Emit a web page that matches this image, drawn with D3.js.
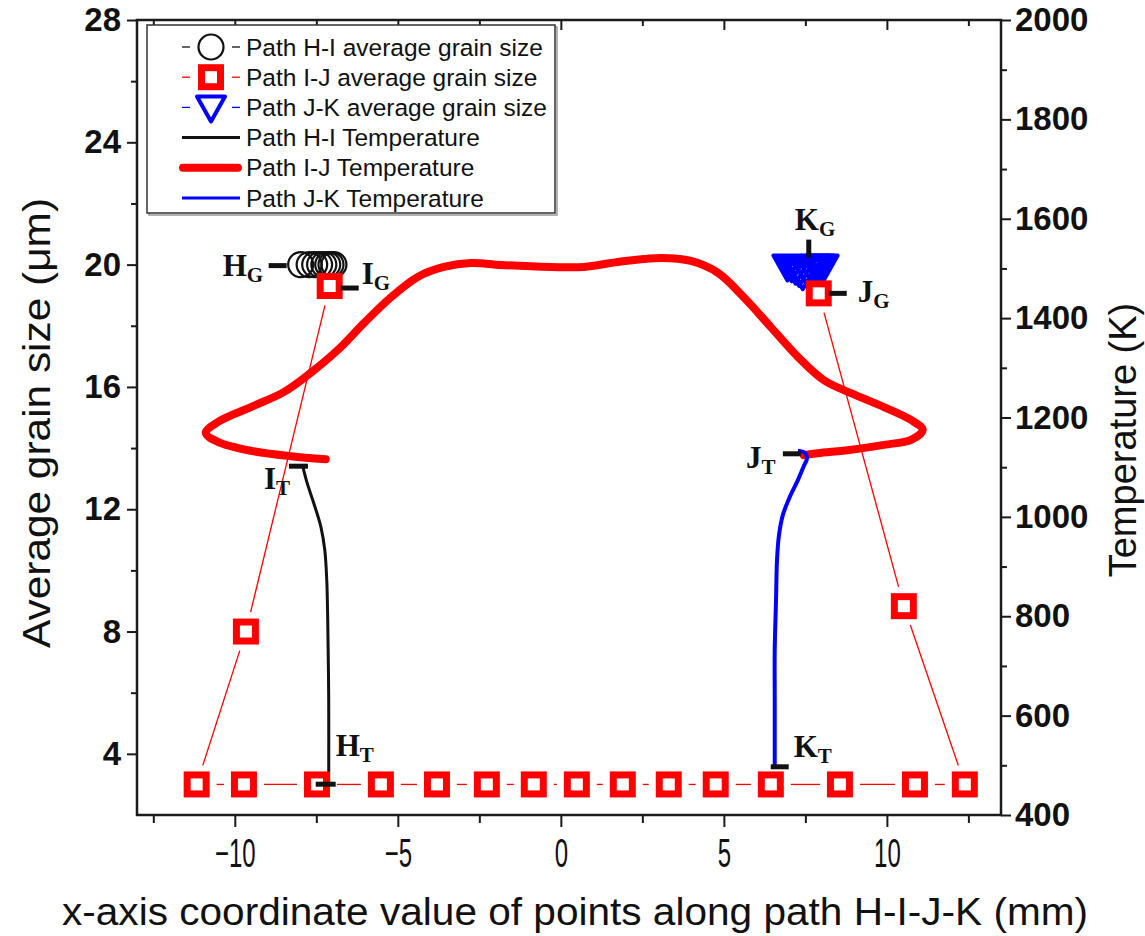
<!DOCTYPE html>
<html><head><meta charset="utf-8">
<script src="https://cdn.jsdelivr.net/npm/d3@7/dist/d3.min.js"></script>
<style>body{margin:0;background:#fff}svg{display:block}</style>
</head><body>
<svg id="chart" width="1145" height="936"></svg>
<script>
// ---- average grain size (μm) of points along each path ----
const hiGrainX = [-7.98, -7.72, -7.55, -7.40, -7.27, -7.15, -7.05, -6.96];
const hiGrainY = [20.0, 20.0, 20.0, 20.0, 20.0, 20.0, 20.0, 20.0];

// I-J points in path order (I -> J)
const ijGrainX = [-7.09, -9.66, -11.17, -9.72, -7.48, -5.52, -3.80, -2.27, -0.83, 0.49, 1.90, 3.31, 4.75, 6.44, 8.56, 10.86, 12.39, 10.52, 7.91];
const ijGrainY = [19.3, 8.0, 3.0, 3.0, 3.0, 3.0, 3.0, 3.0, 3.0, 3.0, 3.0, 3.0, 3.0, 3.0, 3.0, 3.0, 3.0, 8.83, 19.06];

const jkGrainX = [6.95, 7.08, 7.20, 7.31, 7.42, 7.55, 7.68, 7.82, 7.94, 8.06];
const jkGrainY = [20.0, 19.98, 19.9, 19.82, 19.72, 19.85, 19.95, 20.0, 20.0, 20.0];

// ---- temperature (K) along each path ----
const hiTempX = [-7.12, -7.12, -7.15, -7.18, -7.24, -7.36, -7.58, -7.79, -7.91];
const hiTempY = [464, 631, 792, 873, 933, 980, 1028, 1070, 1100];

const ijTempX = [-7.21, -8.28, -9.51, -10.52, -10.89, -10.52, -9.51, -8.50, -7.67, -6.84, -6.04, -5.21, -4.39, -3.59, -2.76, -1.84, -0.31, 0.71, 1.75, 3.07, 3.99, 4.82, 5.61, 6.44, 7.27, 8.07, 8.90, 9.91, 10.74, 11.10, 10.74, 9.91, 8.90, 7.88, 7.45];
const ijTempY = [1116, 1122, 1133, 1151, 1169, 1191, 1221, 1251, 1290, 1336, 1390, 1442, 1483, 1503, 1511, 1507, 1503, 1503, 1513, 1521, 1515, 1491, 1442, 1382, 1322, 1275, 1249, 1221, 1195, 1175, 1155, 1145, 1135, 1128, 1124];

const jkTempX = [7.27, 7.48, 7.55, 7.45, 7.27, 7.02, 6.81, 6.69, 6.63, 6.60, 6.56, 6.56, 6.56];
const jkTempY = [1133, 1129, 1118, 1102, 1074, 1040, 1004, 963, 913, 833, 732, 631, 499];

// ---- axes ----
const xTicks = [-10, -5, 0, 5, 10];
const xMinor = [-12.5, -7.5, -2.5, 2.5, 7.5, 12.5];
const grainTicks = [4, 8, 12, 16, 20, 24, 28];
const grainMinor = [6, 10, 14, 18, 22, 26];
const tempTicks = [400, 600, 800, 1000, 1200, 1400, 1600, 1800, 2000];
const tempMinor = [500, 700, 900, 1100, 1300, 1500, 1700, 1900];

const xTitle = "x-axis coordinate value of points along path H-I-J-K (mm)";
const grainTitle = "Average grain size (\u03bcm)";
const tempTitle = "Temperature (K)";

const legendLabels = [
  "Path H-I average grain size",
  "Path I-J average grain size",
  "Path J-K average grain size",
  "Path H-I Temperature",
  "Path I-J Temperature",
  "Path J-K Temperature"
];

const zip = (xs, ys) => xs.map((v, i) => ({x: v, y: ys[i]}));

const svg = d3.select("#chart");
const plotL = 137, plotR = 1001, plotT = 20, plotB = 815;

const x = d3.scaleLinear().domain([-13, 13.5]).range([plotL, plotR]);
const yG = d3.scaleLinear().domain([2, 28]).range([plotB, plotT]);
const yT = d3.scaleLinear().domain([400, 2000]).range([plotB, plotT]);

const RED = "#ff0000", BLUE = "#0000ff", AXIS = "#1a1a1a";
const SANS = "'Liberation Sans', Arial, sans-serif";
const SERIF = "'Liberation Serif', 'Times New Roman', serif";
const fmt = d3.format("d");

// ---- axes ----
function styleAxis(g, w) {
  g.select(".domain").remove();
  g.selectAll(".tick line").attr("stroke", AXIS).attr("stroke-width", w);
}
const axBottom = svg.append("g").attr("transform", `translate(0,${plotB})`)
  .call(d3.axisBottom(x).tickValues(xTicks).tickSize(12).tickPadding(12).tickFormat(fmt));
styleAxis(axBottom, 2);
axBottom.selectAll("text").attr("font-family", SANS).attr("font-size", 40).attr("fill", "#111")
  .attr("transform", "scale(0.6,1)");
svg.append("g").attr("transform", `translate(0,${plotB})`)
  .call(d3.axisBottom(x).tickValues(xMinor).tickSize(8).tickFormat("")).call(g => styleAxis(g, 2));
svg.append("g").attr("transform", `translate(0,${plotT})`)
  .call(d3.axisBottom(x).tickValues(xTicks).tickSize(10).tickFormat("")).call(g => styleAxis(g, 2));
svg.append("g").attr("transform", `translate(0,${plotT})`)
  .call(d3.axisBottom(x).tickValues(xMinor).tickSize(6).tickFormat("")).call(g => styleAxis(g, 2));

const axLeft = svg.append("g").attr("transform", `translate(${plotL},0)`)
  .call(d3.axisLeft(yG).tickValues(grainTicks).tickSize(10).tickPadding(6).tickFormat(fmt));
styleAxis(axLeft, 2);
axLeft.selectAll("text").attr("font-family", SANS).attr("font-size", 33).attr("font-weight", "bold").attr("fill", "#111");
svg.append("g").attr("transform", `translate(${plotL},0)`)
  .call(d3.axisLeft(yG).tickValues(grainMinor).tickSize(6).tickFormat("")).call(g => styleAxis(g, 2));

const axRight = svg.append("g").attr("transform", `translate(${plotR},0)`)
  .call(d3.axisRight(yT).tickValues(tempTicks).tickSize(10).tickPadding(4).tickFormat(fmt));
styleAxis(axRight, 2);
axRight.selectAll("text").attr("font-family", SANS).attr("font-size", 33).attr("font-weight", "bold").attr("fill", "#111");
svg.append("g").attr("transform", `translate(${plotR},0)`)
  .call(d3.axisRight(yT).tickValues(tempMinor).tickSize(6).tickFormat("")).call(g => styleAxis(g, 2));

// frame
svg.append("rect").attr("x", plotL).attr("y", plotT).attr("width", plotR - plotL).attr("height", plotB - plotT)
  .attr("fill", "none").attr("stroke", AXIS).attr("stroke-width", 2.5);

// titles
svg.append("text").attr("x", (plotL + plotR) / 2 + 6).attr("y", 925).attr("text-anchor", "middle")
  .attr("font-family", SANS).attr("font-size", 38).attr("fill", "#111")
  .attr("textLength", 1026).attr("lengthAdjust", "spacingAndGlyphs").text(xTitle);
svg.append("text").attr("transform", "translate(50,423) rotate(-90)").attr("text-anchor", "middle")
  .attr("font-family", SANS).attr("font-size", 38).attr("fill", "#111")
  .attr("textLength", 450).attr("lengthAdjust", "spacingAndGlyphs").text(grainTitle);
svg.append("text").attr("transform", "translate(1136,440) rotate(-90)").attr("text-anchor", "middle")
  .attr("font-family", SANS).attr("font-size", 38).attr("fill", "#111").text(tempTitle);

// ---- plot layers ----
const plot = svg.append("g");

// temperature curves (right axis)
const tLine = d3.line().x(d => x(d.x)).y(d => yT(d.y)).curve(d3.curveCatmullRom.alpha(0.5));
plot.append("path").datum(zip(ijTempX, ijTempY)).attr("d", tLine)
  .attr("fill", "none").attr("stroke", RED).attr("stroke-width", 8).attr("stroke-linecap", "round");
plot.append("path").datum(zip(hiTempX, hiTempY)).attr("d", tLine)
  .attr("fill", "none").attr("stroke", "#111").attr("stroke-width", 3);
plot.append("path").datum(zip(jkTempX, jkTempY)).attr("d", tLine)
  .attr("fill", "none").attr("stroke", BLUE).attr("stroke-width", 4);

// connecting lines between grain-size markers, leaving a gap round each marker
function gappedSegments(pts, ys, color, width, gap) {
  const g = plot.append("g");
  for (let i = 0; i < pts.length - 1; i++) {
    const x1 = x(pts[i].x), y1 = ys(pts[i].y), x2 = x(pts[i + 1].x), y2 = ys(pts[i + 1].y);
    const len = Math.hypot(x2 - x1, y2 - y1);
    if (len <= 2 * gap) continue;
    const ux = (x2 - x1) / len, uy = (y2 - y1) / len;
    g.append("line").attr("x1", x1 + ux * gap).attr("y1", y1 + uy * gap)
      .attr("x2", x2 - ux * gap).attr("y2", y2 - uy * gap)
      .attr("stroke", color).attr("stroke-width", width);
  }
}
const hiPts = zip(hiGrainX, hiGrainY), ijPts = zip(ijGrainX, ijGrainY), jkPts = zip(jkGrainX, jkGrainY);
gappedSegments(hiPts, yG, "#111", 1.2, 20);
gappedSegments(ijPts, yG, RED, 1.3, 20);
gappedSegments(jkPts, yG, BLUE, 1.2, 20);

// markers
const triPath = "M-14,-9L14,-9L0,16Z";
plot.append("g").selectAll("circle").data(hiPts).join("circle")
  .attr("cx", d => x(d.x)).attr("cy", d => yG(d.y)).attr("r", 12.5)
  .attr("fill", "none").attr("stroke", "#111").attr("stroke-width", 2.2);
plot.append("g").selectAll("path").data(jkPts).join("path")
  .attr("transform", d => `translate(${x(d.x)},${yG(d.y)})`).attr("d", triPath)
  .attr("fill", "none").attr("stroke", BLUE).attr("stroke-width", 4).attr("stroke-linejoin", "round");
plot.append("g").selectAll("rect").data(ijPts).join("rect")
  .attr("x", d => x(d.x) - 9.5).attr("y", d => yG(d.y) - 9.5).attr("width", 19).attr("height", 19)
  .attr("fill", "#fff").attr("stroke", RED).attr("stroke-width", 7);

// ---- point labels with leader bars ----
function label(px, py, main, sub, anchor) {
  const t = plot.append("text").attr("x", px).attr("y", py).attr("text-anchor", anchor || "start")
    .attr("font-family", SERIF).attr("font-weight", "bold").attr("fill", "#111").attr("font-size", 31);
  t.append("tspan").text(main);
  t.append("tspan").attr("font-size", 21).attr("dy", 6).text(sub);
}
function bar(x1, y1, x2, y2) {
  plot.append("line").attr("x1", x1).attr("y1", y1).attr("x2", x2).attr("y2", y2)
    .attr("stroke", "#111").attr("stroke-width", 5);
}
// H_G : left end of the H-I grain markers
{ const px = x(hiGrainX[0]), py = yG(hiGrainY[0]);
  bar(px - 32, py + 1, px - 14, py + 1); label(px - 78, py + 11, "H", "G"); }
// I_G : first I-J marker
{ const px = x(ijGrainX[0]), py = yG(ijGrainY[0]);
  bar(px + 11, py + 2, px + 29, py + 2); label(px + 32, py - 2, "I", "G"); }
// K_G : J-K grain markers
{ const px = x(jkGrainX[4]) + 6, py = yG(20);
  bar(px, py - 25, px, py - 7); label(px - 14, py - 35, "K", "G"); }
// J_G : last I-J marker
{ const px = x(ijGrainX[ijGrainX.length - 1]), py = yG(ijGrainY[ijGrainY.length - 1]);
  bar(px + 10, py, px + 28, py); label(px + 39, py + 9, "J", "G"); }
// I_T : top of H-I temperature
{ const px = x(hiTempX[hiTempX.length - 1]), py = yT(hiTempY[hiTempY.length - 1]);
  bar(px - 14, py - 1, px + 5, py - 1); label(px - 39, py + 22, "I", "T"); }
// H_T : bottom of H-I temperature
{ const px = x(hiTempX[0]), py = yT(hiTempY[0]);
  bar(px - 13, py + 1, px + 7, py + 1); label(px + 7, py - 27, "H", "T"); }
// J_T : start of J-K temperature
{ const px = x(jkTempX[0]), py = yT(jkTempY[0]);
  bar(px - 15, py + 3, px + 3, py + 3); label(px - 52, py + 17, "J", "T"); }
// K_T : end of J-K temperature
{ const px = x(jkTempX[jkTempX.length - 1]), py = yT(jkTempY[jkTempY.length - 1]);
  bar(px - 4, py + 1, px + 14, py + 1); label(px + 19, py - 9, "K", "T"); }

// ---- legend ----
const lg = svg.append("g");
lg.append("rect").attr("x", 149).attr("y", 27).attr("width", 408).attr("height", 188).attr("fill", "none").attr("stroke", "#999").attr("stroke-width", 1.5);
lg.append("rect").attr("x", 147).attr("y", 25).attr("width", 408).attr("height", 188).attr("fill", "#fff").attr("stroke", "#333").attr("stroke-width", 1.5);
const rowY = i => 47 + i * 30.2;
const sx = 211;
// marker rows: short dashes either side of the marker
[["#111", 0], [RED, 1], [BLUE, 2]].forEach(([c, i]) => {
  lg.append("line").attr("x1", 182).attr("x2", 190).attr("y1", rowY(i)).attr("y2", rowY(i)).attr("stroke", c).attr("stroke-width", 1.3);
  lg.append("line").attr("x1", 232).attr("x2", 240).attr("y1", rowY(i)).attr("y2", rowY(i)).attr("stroke", c).attr("stroke-width", 1.3);
});
lg.append("circle").attr("cx", sx).attr("cy", rowY(0)).attr("r", 12.5).attr("fill", "none").attr("stroke", "#111").attr("stroke-width", 2.2);
lg.append("rect").attr("x", sx - 9.5).attr("y", rowY(1) - 9.5).attr("width", 19).attr("height", 19).attr("fill", "#fff").attr("stroke", RED).attr("stroke-width", 7);
lg.append("path").attr("transform", `translate(${sx},${rowY(2) - 2})`).attr("d", triPath).attr("fill", "none").attr("stroke", BLUE).attr("stroke-width", 4).attr("stroke-linejoin", "round");
lg.append("line").attr("x1", 182).attr("x2", 240).attr("y1", rowY(3)).attr("y2", rowY(3)).attr("stroke", "#111").attr("stroke-width", 3);
lg.append("line").attr("x1", 183).attr("x2", 238).attr("y1", rowY(4)).attr("y2", rowY(4)).attr("stroke", RED).attr("stroke-width", 8).attr("stroke-linecap", "round");
lg.append("line").attr("x1", 182).attr("x2", 240).attr("y1", rowY(5)).attr("y2", rowY(5)).attr("stroke", BLUE).attr("stroke-width", 3);
lg.selectAll("text.lbl").data(legendLabels).join("text").attr("class", "lbl")
  .attr("x", 246).attr("y", (d, i) => rowY(i) + 8.5)
  .attr("font-family", SANS).attr("font-size", 24.5).attr("fill", "#111").text(d => d);
</script>
</body></html>
